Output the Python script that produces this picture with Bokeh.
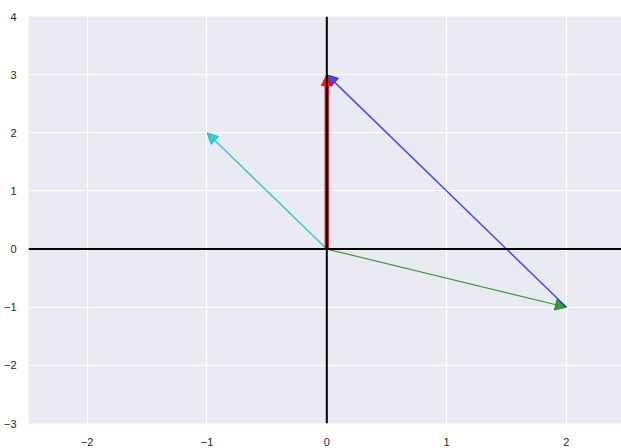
from bokeh.plotting import figure
from bokeh.models import Arrow, NormalHead, Span, FixedTicker, Range1d, CustomJSTickFormatter
from bokeh.embed import file_html
from bokeh.resources import INLINE

# vectors: start point, end point, colour, line width
x_start = [0, 0, 2, 0]
y_start = [0, 0, -1, 0]
x_end = [-1, 2, 0, 0]
y_end = [2, -1, 3, 3]
colors = ["#00bfbf", "#008000", "#0000ff", "#ff0000"]
widths = [1.5, 1.2, 1.5, 4.5]
alphas = [0.75, 0.75, 0.7, 0.9]

x_ticks = [-2, -1, 0, 1, 2]
y_ticks = [-3, -2, -1, 0, 1, 2, 3, 4]

p = figure(width=621, height=448, output_backend="svg", toolbar_location=None,
           x_range=Range1d(-2.49, 2.46), y_range=Range1d(-3, 4),
           min_border_left=27, min_border_right=0, min_border_top=16, min_border_bottom=22)
p.background_fill_color = "#eaeaf2"
p.border_fill_color = "white"
p.outline_line_color = None

for ax in (p.xaxis[0], p.yaxis[0]):
    ax.axis_line_color = None
    ax.major_tick_line_color = None
    ax.minor_tick_line_color = None
    ax.major_label_text_font = "Liberation Sans"
    ax.major_label_text_font_size = "11px"
    ax.major_label_text_color = "#262626"
    ax.formatter = CustomJSTickFormatter(code="return tick < 0 ? '\u2212' + Math.abs(tick) : String(tick);")
p.xaxis.ticker = FixedTicker(ticks=x_ticks)
p.yaxis.ticker = FixedTicker(ticks=y_ticks)
p.xaxis.major_label_standoff = 8
p.yaxis.major_label_standoff = 6

p.xgrid.ticker = FixedTicker(ticks=x_ticks)
p.ygrid.ticker = FixedTicker(ticks=y_ticks)
p.grid.grid_line_color = "white"
p.grid.grid_line_width = 1.2

for xs, ys, xe, ye, c, w, a in zip(x_start, y_start, x_end, y_end, colors, widths, alphas):
    head = NormalHead(size=11, fill_color=c, line_color=c, fill_alpha=a, line_alpha=a)
    p.add_layout(Arrow(end=head, x_start=xs, y_start=ys, x_end=xe, y_end=ye,
                       line_color=c, line_width=w, line_alpha=a))

# coordinate axes through the origin
p.add_layout(Span(location=0, dimension="width", line_color="black", line_width=2))
p.add_layout(Span(location=0, dimension="height", line_color="black", line_width=2))

open("out.html", "w").write(file_html(p, INLINE))
